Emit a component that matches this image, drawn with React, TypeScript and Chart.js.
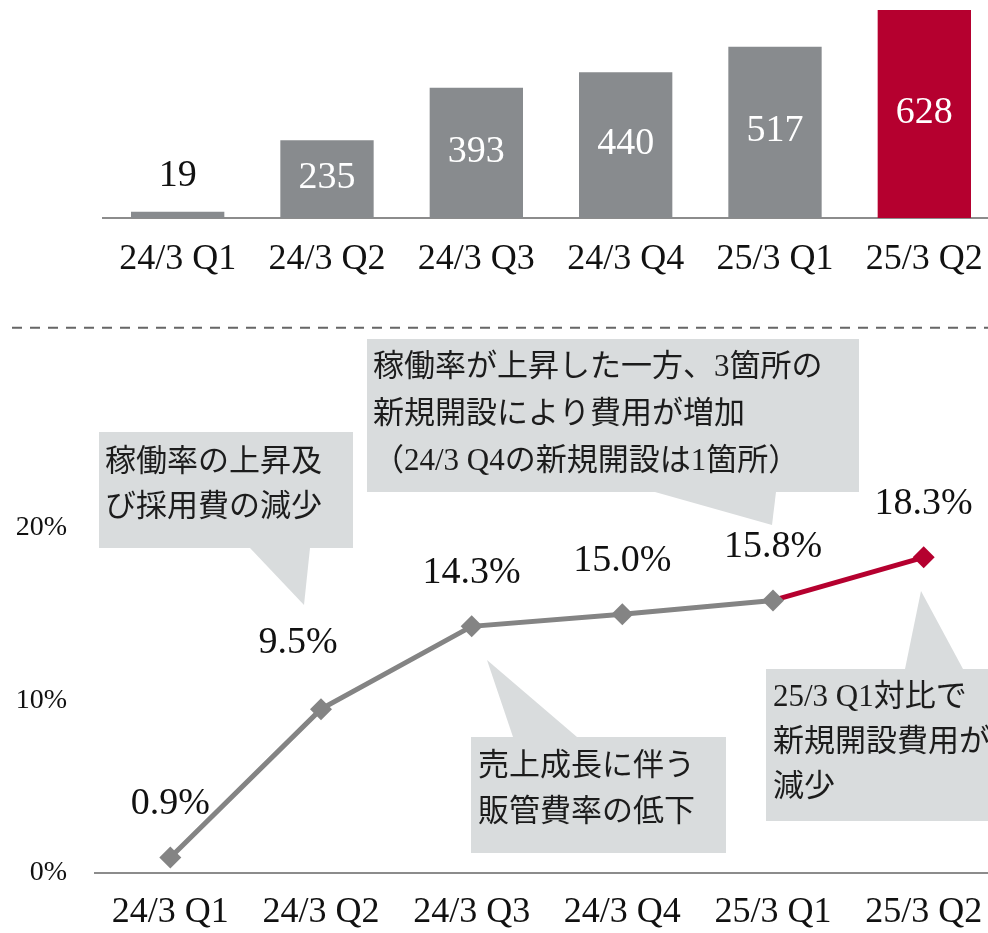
import React, { useEffect, useRef } from "react";
import { Chart, registerables } from "chart.js";

Chart.register(...registerables);

// ---------- data ----------
const categories = ["24/3 Q1", "24/3 Q2", "24/3 Q3", "24/3 Q4", "25/3 Q1", "25/3 Q2"];
const salesValues = [19, 235, 393, 440, 517, 628];
const marginValues = [0.9, 9.5, 14.3, 15.0, 15.8, 18.3];
const marginLabels = ["0.9%", "9.5%", "14.3%", "15.0%", "15.8%", "18.3%"];
const yTickValues = [0, 10, 20];

const callout1Lines = ["稼働率の上昇及", "び採用費の減少"];
const callout2Lines = ["稼働率が上昇した一方、3箇所の", "新規開設により費用が増加", "（24/3 Q4の新規開設は1箇所）"];
const callout3Lines = ["売上成長に伴う", "販管費率の低下"];
const callout4Lines = ["25/3 Q1対比で", "新規開設費用が増", "減少"];

// ---------- styles ----------
const GRAY = "#888b8e";
const LINE_GRAY = "#848484";
const RED = "#b5002f";
const BOX = "#d9dcdd";
const TEXT = "#111111";
const SERIF = '"Liberation Serif", "Noto Sans CJK JP", serif';
const JP = '"Liberation Serif", "Noto Sans CJK JP", sans-serif';

const LINE_TOP = 300; // page y of the line chart canvas

// callout layout (page pixels)
const callouts = [
  { box: [99, 432, 353, 548], tail: [[250, 548], [304, 605], [310, 548]], lines: callout1Lines, tx: 105, ty: [463, 508] },
  { box: [367, 339, 859, 492], tail: [[655, 492], [772, 525], [776, 492]], lines: callout2Lines, tx: 373, ty: [368, 415, 462] },
  { box: [471, 737, 726, 853], tail: [[513, 737], [487, 660], [577, 737]], lines: callout3Lines, tx: 478, ty: [767, 813] },
  { box: [766, 669, 1010, 821], tail: [[905, 669], [921, 591], [963, 669]], lines: callout4Lines, tx: 773, ty: [698, 743, 788] },
];

// label offsets (dx, dy above point)
const labelShift = [[0, 53], [-23, 66], [0, 53], [0, 53], [0, 53], [0, 53]];

const noSidePadding = (s: any) => {
  s.paddingLeft = 0;
  s.paddingRight = 0;
};

const barLabelPlugin = {
  id: "barLabels",
  afterDatasetsDraw(chart: any) {
    const ctx = chart.ctx;
    const meta = chart.getDatasetMeta(0);
    ctx.save();
    ctx.font = `38px ${SERIF}`;
    ctx.textAlign = "center";
    ctx.textBaseline = "middle";
    meta.data.forEach((bar: any, i: number) => {
      const { x, y, base } = bar.getProps(["x", "y", "base"], true);
      const h = base - y;
      if (h < 50) {
        ctx.fillStyle = TEXT;
        ctx.fillText(String(salesValues[i]), x, y - 36);
      } else {
        ctx.fillStyle = "#ffffff";
        ctx.fillText(String(salesValues[i]), x, (y + base) / 2 - 1);
      }
    });
    ctx.restore();
  },
};

const calloutPlugin = {
  id: "callouts",
  beforeDraw(chart: any) {
    const ctx = chart.ctx;
    ctx.save();
    ctx.strokeStyle = "#666666";
    ctx.lineWidth = 2;
    ctx.setLineDash([10, 8]);
    ctx.beginPath();
    ctx.moveTo(12, 327.7 - LINE_TOP);
    ctx.lineTo(1000, 327.7 - LINE_TOP);
    ctx.stroke();
    ctx.restore();
  },
  beforeDatasetsDraw(chart: any) {
    const ctx = chart.ctx;
    ctx.save();
    callouts.forEach((c) => {
      const [x0, y0, x1, y1] = c.box;
      ctx.fillStyle = BOX;
      ctx.fillRect(x0, y0 - LINE_TOP, x1 - x0, y1 - y0);
      ctx.beginPath();
      c.tail.forEach((p, k) => {
        const px = p[0];
        const py = p[1] - LINE_TOP;
        if (k === 0) ctx.moveTo(px, py);
        else ctx.lineTo(px, py);
      });
      ctx.closePath();
      ctx.fill();
      ctx.fillStyle = "#1c1c1c";
      ctx.font = `31px ${JP}`;
      ctx.textAlign = "left";
      ctx.textBaseline = "middle";
      c.lines.forEach((t, k) => {
        ctx.fillText(t, c.tx, c.ty[k] - LINE_TOP);
      });
    });
    ctx.restore();
  },
};

const lineLabelPlugin = {
  id: "lineLabels",
  afterDatasetsDraw(chart: any) {
    const ctx = chart.ctx;
    const meta = chart.getDatasetMeta(0);
    ctx.save();
    ctx.font = `38px ${SERIF}`;
    ctx.textAlign = "center";
    ctx.textBaseline = "middle";
    ctx.fillStyle = TEXT;
    meta.data.forEach((pt: any, i: number) => {
      const [dx, dy] = labelShift[i];
      ctx.fillText(marginLabels[i], pt.x + dx, pt.y - dy);
    });
    ctx.restore();
  },
};

const LINE_W = 1010;

export default function App() {
  const barRef = useRef<HTMLCanvasElement>(null);
  const lineRef = useRef<HTMLCanvasElement>(null);

  useEffect(() => {
    Chart.defaults.font.family = SERIF;
    const last = salesValues.length - 1;
    const bar = new Chart(barRef.current as HTMLCanvasElement, {
      type: "bar",
      data: {
        labels: categories,
        datasets: [
          {
            data: salesValues,
            backgroundColor: salesValues.map((_, i) => (i === last ? RED : GRAY)),
            barPercentage: 0.625,
            categoryPercentage: 1,
            borderWidth: 0,
          },
        ],
      },
      options: {
        responsive: false,
        animation: false,
        devicePixelRatio: 1,
        layout: { padding: { left: 103, right: 1, top: 0, bottom: 0 } },
        plugins: { legend: { display: false }, tooltip: { enabled: false } },
        scales: {
          x: {
            grid: { display: false, drawTicks: false },
            border: { display: true, color: "#8c8c8c", width: 2 },
            ticks: { font: { family: SERIF, size: 36 }, color: TEXT, padding: 20.4, maxRotation: 0, autoSkip: false },
            afterFit: (s: any) => {
              s.height = 82;
              noSidePadding(s);
            },
          },
          y: { display: false, min: 0, max: 658 },
        },
      } as any,
      plugins: [barLabelPlugin],
    });

    const lastM = marginValues.length - 1;
    const line = new Chart(lineRef.current as HTMLCanvasElement, {
      type: "line",
      data: {
        labels: categories,
        datasets: [
          {
            data: marginValues,
            borderColor: LINE_GRAY,
            borderWidth: 5,
            segment: {
              borderColor: (c: any) => (c.p1DataIndex === lastM ? RED : LINE_GRAY),
            },
            pointStyle: "rectRot",
            pointRadius: 11,
            pointHoverRadius: 11,
            pointBackgroundColor: marginValues.map((_, i) => (i === lastM ? RED : LINE_GRAY)),
            pointBorderWidth: 0,
            tension: 0,
          },
        ],
      },
      options: {
        responsive: false,
        animation: false,
        devicePixelRatio: 1,
        layout: { padding: { left: 0, right: 1, top: 55.5, bottom: 0 } },
        plugins: { legend: { display: false }, tooltip: { enabled: false } },
        scales: {
          x: {
            offset: true,
            grid: { display: false, drawTicks: false, offset: true },
            border: { display: true, color: "#8c8c8c", width: 2 },
            ticks: { font: { family: SERIF, size: 36 }, color: TEXT, padding: 18.4, maxRotation: 0, autoSkip: false },
            afterFit: (s: any) => {
              s.height = 60;
              noSidePadding(s);
            },
          },
          y: {
            min: 0,
            max: 30,
            grid: { display: false, drawTicks: false },
            border: { display: false },
            ticks: {
              font: { family: SERIF, size: 28 },
              color: TEXT,
              padding: 28,
              callback: (v: any) => `${v}%`,
            },
            afterBuildTicks: (s: any) => {
              s.ticks = yTickValues.map((v) => ({ value: v }));
            },
            afterFit: (s: any) => {
              s.width = 95;
            },
          },
        },
      } as any,
      plugins: [calloutPlugin, lineLabelPlugin],
    });

    return () => {
      bar.destroy();
      line.destroy();
    };
  }, []);

  return (
    <div
      style={{
        position: "fixed",
        left: 0,
        top: 0,
        width: 988,
        height: 933,
        overflow: "hidden",
        background: "#ffffff",
      }}
    >
      <canvas
        ref={barRef}
        width={1000}
        height={300}
        style={{ position: "absolute", left: 0, top: 0, width: 1000, height: 300 }}
      />
      <canvas
        ref={lineRef}
        width={LINE_W}
        height={633}
        style={{ position: "absolute", left: 0, top: LINE_TOP, width: LINE_W, height: 633 }}
      />
    </div>
  );
}
